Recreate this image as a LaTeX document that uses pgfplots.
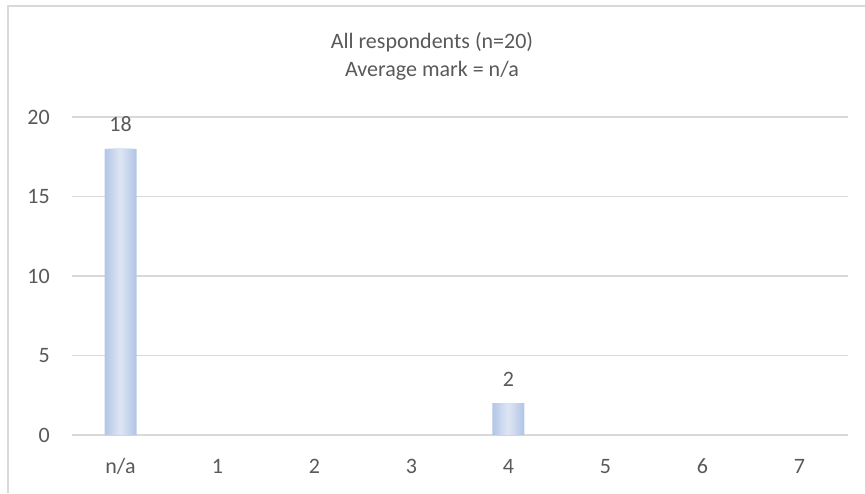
\documentclass[border=0pt]{standalone}
\usepackage{fontspec}
\setmainfont{Carlito}
\usepackage{pgfplots}
\usepackage{pgfplotstable}
\pgfplotsset{compat=1.18}
\definecolor{txt}{HTML}{595959}
\definecolor{gridc}{HTML}{D9D9D9}
\definecolor{barE}{HTML}{B4C7E7}
\definecolor{barM}{HTML}{DCE4F3}
\pgfplotstableread{
x y
0 18
1 0
2 0
3 0
4 2
5 0
6 0
7 0
}\datatable
\begin{document}
\begin{tikzpicture}[x=1pt,y=1pt]
\path[use as bounding box] (0,0) rectangle (865,493);
\draw[gridc, line width=1.5pt] (8,0) -- (8,487) -- (865,487);
\node[txt, font=\fontsize{22}{26}\selectfont, anchor=base, inner sep=0pt] at (432,444) {All respondents (n=20)};
\node[txt, font=\fontsize{22}{26}\selectfont, anchor=base, inner sep=0pt] at (432,416) {Average mark = n/a};
\begin{axis}[
  at={(72pt,58pt)}, anchor=south west,
  scale only axis, width=776pt, height=318pt,
  xmin=-0.5, xmax=7.5, ymin=0, ymax=20,
  ytick={0,5,10,15,20},
  xtick={0,1,2,3,4,5,6,7},
  xticklabels={n/a,1,2,3,4,5,6,7},
  major tick length=0pt,
  axis line style={draw=none},
  ymajorgrids,
  major grid style={gridc, line width=1.5pt},
  /pgf/number format/assume math mode=true,
  tick label style={font=\fontsize{22}{26}\selectfont, text=txt, inner sep=0pt},
  yticklabel style={anchor=east, xshift=-22pt},
  xticklabel style={anchor=base, text height=0.7em, text depth=0.2em, yshift=-38pt},
  ybar, bar shift=0pt,
  unbounded coords=discard,
  y filter/.expression={y==0 ? nan : y},
  clip=false,
]
\addplot[draw=none, fill=barE, bar width=32pt] table {\datatable};
\addplot[draw=none, fill=barM!14!barE, bar width=28pt] table {\datatable};
\addplot[draw=none, fill=barM!28!barE, bar width=24pt] table {\datatable};
\addplot[draw=none, fill=barM!43!barE, bar width=20pt] table {\datatable};
\addplot[draw=none, fill=barM!57!barE, bar width=16pt] table {\datatable};
\addplot[draw=none, fill=barM!71!barE, bar width=12pt] table {\datatable};
\addplot[draw=none, fill=barM!86!barE, bar width=8pt] table {\datatable};
\addplot[draw=none, fill=barM, bar width=4pt,
  nodes near coords,
  nodes near coords style={font=\fontsize{22}{26}\selectfont, text=txt, anchor=base, inner sep=0pt, yshift=17pt}] table {\datatable};
\end{axis}
\end{tikzpicture}
\end{document}
